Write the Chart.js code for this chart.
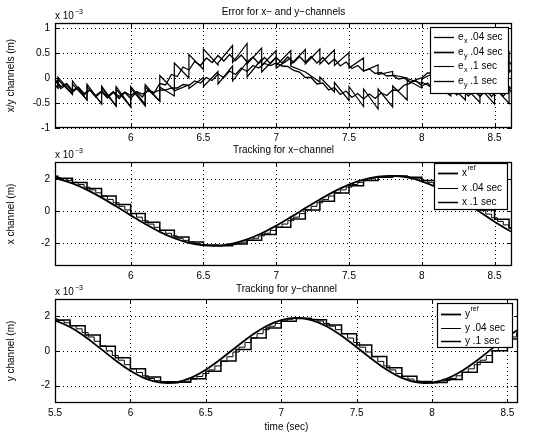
<!DOCTYPE html>
<html>
<head>
<meta charset="utf-8">
<script src="https://cdn.jsdelivr.net/npm/chart.js@4.4.0/dist/chart.umd.min.js"></script>
<style>
  body { margin: 0; background: #fff; }
  #wrap { position: relative; width: 543px; height: 435px; }
  canvas { position: absolute; left: 0; }
</style>
</head>
<body>
<div id="wrap">
  <canvas id="errChart" width="543" height="145" style="top:0px"></canvas>
  <canvas id="xChart" width="543" height="145" style="top:140px"></canvas>
  <canvas id="yChart" width="543" height="155" style="top:280px"></canvas>
</div>
<script>
const FONT = '"Liberation Sans", Arial, Helvetica, sans-serif';

// sample instants of the .1 sec controller (sec)
const t10 = [5.4, 5.5, 5.6, 5.7, 5.8, 5.9, 6.0, 6.1, 6.2, 6.3, 6.4, 6.5, 6.6, 6.7, 6.8, 6.9, 7.0,
  7.1, 7.2, 7.3, 7.4, 7.5, 7.6, 7.7, 7.8, 7.9, 8.0, 8.1, 8.2, 8.3, 8.4, 8.5, 8.6, 8.7];

// errors (x 10^-3 m), .1 sec: [start, end] of every sample interval
const ex10 = [0.10, -0.20, -0.03, -0.33, -0.12, -0.44, -0.17, -0.51, -0.20, -0.56, -0.22, -0.58,
  -0.20, -0.56, -0.13, -0.47, 0.05, -0.25, 0.30, 0.00, 0.47, 0.17, 0.58, 0.26, 0.30, 0.65,
  0.31, 0.69, 0.28, 0.60, 0.25, 0.55, 0.25, 0.55, 0.27, 0.57, 0.28, 0.58, 0.28, 0.56, 0.25, 0.51,
  0.20, 0.40, 0.14, 0.26, 0.07, 0.13, 0.06, 0.00, -0.01, -0.11, -0.08, -0.24, -0.14, -0.36,
  -0.16, -0.44, -0.19, -0.49, -0.20, -0.52, -0.19, -0.51, -0.17, -0.49];
const ey10 = [0.10, -0.20, 0.02, -0.32, -0.06, -0.44, -0.12, -0.52, -0.16, -0.56, -0.17, -0.57,
  -0.17, -0.53, -0.18, -0.46, -0.18, -0.36, -0.26, -0.14, -0.21, 0.01, -0.17, 0.13, -0.12, 0.24,
  -0.06, 0.32, 0.02, 0.38, 0.12, 0.42, 0.20, 0.40, 0.24, 0.12, 0.12, -0.08, 0.02, -0.28,
  -0.09, -0.45, -0.17, -0.57, -0.22, -0.62, -0.22, -0.58, -0.16, -0.44, -0.04, -0.20,
  -0.02, 0.12, 0.08, 0.32, 0.14, 0.46, 0.16, 0.54, 0.16, 0.56, 0.14, 0.52, 0.11, 0.45];

// errors (x 10^-3 m), .04 sec, one value every .04 sec from 5.48
const ex04 = [-0.04, -0.21, -0.13, -0.28, -0.19, -0.34, -0.24, -0.38, -0.27, -0.40,
  -0.29, -0.41, -0.29, -0.41, -0.28, -0.38, -0.23, -0.30, -0.11, -0.14,
  0.07, 0.03, 0.22, 0.16, 0.33, 0.25, 0.40, 0.31, 0.45, 0.34,
  0.47, 0.35, 0.46, 0.32, 0.42, 0.29, 0.41, 0.29, 0.41, 0.30,
  0.42, 0.31, 0.43, 0.31, 0.43, 0.30, 0.41, 0.28, 0.38, 0.24,
  0.32, 0.19, 0.25, 0.14, 0.18, 0.09, 0.11, 0.04, 0.05, -0.02,
  0.00, -0.09, -0.05, -0.16, -0.10, -0.23, -0.15, -0.30, -0.20, -0.34,
  -0.23, -0.36, -0.25, -0.37, -0.25, -0.37, -0.24, -0.36, -0.23, -0.34];
const ey04 = [-0.03, -0.17, -0.11, -0.25, -0.18, -0.31, -0.23, -0.35, -0.26, -0.37,
  -0.27, -0.37, -0.28, -0.35, -0.27, -0.32, -0.26, -0.29, -0.24, -0.24,
  -0.20, -0.20, -0.13, -0.15, -0.06, -0.10, 0.01, -0.05, 0.08, 0.01,
  0.14, 0.07, 0.20, 0.13, 0.25, 0.20, 0.29, 0.25, 0.30, 0.24,
  0.23, 0.15, 0.12, 0.01, 0.01, -0.12, -0.10, -0.24, -0.19, -0.33,
  -0.26, -0.39, -0.31, -0.42, -0.32, -0.41, -0.30, -0.35, -0.24, -0.25,
  -0.14, -0.11, -0.03, 0.00, 0.10, 0.10, 0.21, 0.18, 0.30, 0.24,
  0.35, 0.26, 0.37, 0.27, 0.37, 0.26, 0.35, 0.24, 0.32, 0.20];

// x channel (x 10^-3 m)
const xRef = [2.16, 2.01, 1.72, 1.32, 0.84, 0.30, -0.26, -0.80, -1.28, -1.68, -1.97, -2.12,
  -2.14, -2.01, -1.75, -1.37, -0.90, -0.37, 0.19, 0.73, 1.23, 1.65, 1.96, 2.14, 2.19, 2.09,
  1.85, 1.49, 1.05, 0.52, -0.05, -0.65, -1.20, -1.62];
const x10 = [2.16, 2.04, 1.78, 1.40, 0.94, 0.41, -0.15, -0.69, -1.18, -1.60, -1.91, -2.09,
  -2.14, -2.04, -1.80, -1.45, -0.99, -0.48, 0.08, 0.62, 1.13, 1.57, 1.90, 2.10, 2.18, 2.11,
  1.90, 1.56, 1.14, 0.63, 0.08, -0.50, -1.04, -1.50];
const x04 = [2.09, 2.01, 1.91, 1.79, 1.65, 1.49, 1.32, 1.14, 0.94, 0.73,
  0.52, 0.30, 0.08, -0.15, -0.37, -0.59, -0.80, -1.00, -1.19, -1.37,
  -1.53, -1.68, -1.81, -1.92, -2.01, -2.08, -2.12, -2.15, -2.15, -2.12,
  -2.08, -2.01, -1.92, -1.81, -1.68, -1.53, -1.37, -1.19, -1.00, -0.80,
  -0.59, -0.37, -0.15, 0.08, 0.30, 0.52, 0.73, 0.94, 1.14, 1.32,
  1.49, 1.65, 1.79, 1.91, 2.01, 2.09, 2.14, 2.18, 2.19, 2.18,
  2.14, 2.09, 2.01, 1.91, 1.79, 1.65, 1.49, 1.32, 1.14, 0.94,
  0.73, 0.52, 0.30, 0.06, -0.18, -0.41, -0.63, -0.85, -1.06, -1.25];

// y channel (x 10^-3 m)
const yRef = [1.91, 1.76, 1.38, 0.82, 0.15, -0.53, -1.14, -1.59, -1.82, -1.81, -1.55, -1.08,
  -0.46, 0.22, 0.88, 1.43, 1.78, 1.91, 1.78, 1.43, 0.88, 0.22, -0.46, -1.08, -1.55, -1.81,
  -1.82, -1.59, -1.14, -0.53, 0.15, 0.82, 1.38, 1.76];
const y10 = [1.92, 1.79, 1.46, 0.93, 0.28, -0.39, -1.02, -1.50, -1.77, -1.81, -1.60, -1.17,
  -0.58, 0.08, 0.75, 1.32, 1.71, 1.88, 1.81, 1.50, 0.99, 0.35, -0.32, -0.96, -1.46, -1.76,
  -1.82, -1.64, -1.23, -0.65, 0.01, 0.69, 1.27, 1.68];
const y04 = [1.85, 1.76, 1.63, 1.47, 1.28, 1.06, 0.81, 0.56, 0.29, 0.01,
  -0.26, -0.53, -0.79, -1.03, -1.24, -1.43, -1.59, -1.71, -1.80, -1.84,
  -1.85, -1.81, -1.74, -1.62, -1.47, -1.30, -1.09, -0.86, -0.60, -0.33,
  -0.06, 0.22, 0.49, 0.75, 1.00, 1.23, 1.43, 1.59, 1.73, 1.83,
  1.89, 1.91, 1.89, 1.83, 1.73, 1.59, 1.43, 1.23, 1.00, 0.75,
  0.49, 0.22, -0.06, -0.33, -0.60, -0.86, -1.09, -1.30, -1.47, -1.62,
  -1.74, -1.81, -1.85, -1.84, -1.80, -1.71, -1.59, -1.43, -1.24, -1.03,
  -0.79, -0.53, -0.26, 0.01, 0.29, 0.56, 0.81, 1.06, 1.28, 1.47];

// sample instants of the .04 sec controller
const t04 = x04.map((v, i) => +(5.48 + 0.04 * i).toFixed(2));

const xTicksTop = [6, 6.5, 7, 7.5, 8, 8.5];
const xTicksBottom = [5.5, 6, 6.5, 7, 7.5, 8, 8.5];
const errTicks = [-1, -0.5, 0, 0.5, 1];
const posTicks = [-2, 0, 2];

function pts(ts, vs) {
  return vs.map((v, i) => ({ x: ts[i], y: v }));
}

function sawPts(ts, pairs) {
  const out = [];
  for (let k = 0; 2 * k + 1 < pairs.length; k++) {
    out.push({ x: ts[k], y: pairs[2 * k] });
    out.push({ x: +(ts[k] + 0.1).toFixed(2), y: pairs[2 * k + 1] });
  }
  return out;
}

function line(data, width, stepped) {
  return { data: data, borderColor: '#000', borderWidth: width, pointRadius: 0,
    fill: false, tension: 0, stepped: stepped || false };
}

// matlab style frame: dotted grid, box, inner ticks, title, exponent, legend
const framePlugin = {
  id: 'frame',
  beforeDatasetsDraw(chart, args, opts) {
    const { ctx, chartArea: a, scales: { x, y } } = chart;
    ctx.save();
    ctx.strokeStyle = '#000';
    ctx.lineWidth = 1;
    ctx.setLineDash([1, 3]);
    ctx.beginPath();
    x.ticks.forEach(t => {
      const px = Math.round(x.getPixelForValue(t.value)) + 0.5;
      ctx.moveTo(px, a.top); ctx.lineTo(px, a.bottom);
    });
    y.ticks.forEach(t => {
      const py = Math.round(y.getPixelForValue(t.value)) + 0.5;
      ctx.moveTo(a.left, py); ctx.lineTo(a.right, py);
    });
    ctx.stroke();
    ctx.restore();
  },
  afterDatasetsDraw(chart, args, opts) {
    const { ctx, chartArea: a, scales: { x, y } } = chart;
    ctx.save();
    ctx.strokeStyle = '#000';
    ctx.lineWidth = 1.3;
    ctx.strokeRect(a.left + 0.5, a.top + 0.5, a.right - a.left - 1, a.bottom - a.top - 1);
    ctx.lineWidth = 1;
    ctx.beginPath();
    x.ticks.forEach(t => {
      const px = Math.round(x.getPixelForValue(t.value)) + 0.5;
      ctx.moveTo(px, a.bottom); ctx.lineTo(px, a.bottom - 4);
      ctx.moveTo(px, a.top); ctx.lineTo(px, a.top + 4);
    });
    y.ticks.forEach(t => {
      const py = Math.round(y.getPixelForValue(t.value)) + 0.5;
      ctx.moveTo(a.left, py); ctx.lineTo(a.left + 4, py);
      ctx.moveTo(a.right, py); ctx.lineTo(a.right - 4, py);
    });
    ctx.stroke();

    // title and exponent
    ctx.fillStyle = '#000';
    ctx.textAlign = 'center';
    ctx.textBaseline = 'middle';
    ctx.font = '10px ' + FONT;
    ctx.fillText(opts.title, (a.left + a.right) / 2, opts.titleY);
    ctx.textAlign = 'left';
    ctx.textBaseline = 'alphabetic';
    ctx.fillText('x 10', a.left, a.top - 4);
    const w = ctx.measureText('x 10').width;
    ctx.font = '7px ' + FONT;
    ctx.fillText('\u22123', a.left + w + 1, a.top - 9);

    // legend
    const lg = opts.legend;
    ctx.fillStyle = '#fff';
    ctx.fillRect(lg.x, lg.y, lg.w, lg.h);
    ctx.lineWidth = 1.2;
    ctx.strokeRect(lg.x + 0.5, lg.y + 0.5, lg.w, lg.h);
    lg.items.forEach((it, i) => {
      const yy = lg.rows[i];
      ctx.lineWidth = it.lw;
      ctx.beginPath();
      ctx.moveTo(lg.x + 4, yy + 0.5); ctx.lineTo(lg.x + 24, yy + 0.5);
      ctx.stroke();
      let tx = lg.x + lg.textOff;
      ctx.fillStyle = '#000';
      ctx.textBaseline = 'middle';
      ctx.font = '10px ' + FONT;
      ctx.fillText(it.base, tx, yy);
      tx += ctx.measureText(it.base).width;
      if (it.sub) {
        ctx.font = '7px ' + FONT;
        ctx.fillText(it.sub, tx + 0.5, yy + 4);
        tx += ctx.measureText(it.sub).width + 0.5;
      }
      if (it.sup) {
        ctx.font = '7px ' + FONT;
        ctx.fillText(it.sup, tx + 0.5, yy - 5);
        tx += ctx.measureText(it.sup).width + 0.5;
      }
      if (it.rest) {
        ctx.font = '10px ' + FONT;
        ctx.fillText(it.rest, tx, yy);
      }
    });
    ctx.restore();
  }
};

function makeOptions(c) {
  const tickFont = { family: FONT, size: 10 };
  return {
    responsive: false,
    animation: false,
    events: [],
    layout: { padding: { top: c.padTop, right: c.padRight, left: 0, bottom: 0 } },
    plugins: { legend: { display: false }, tooltip: { enabled: false }, frame: c.frame },
    scales: {
      x: {
        type: 'linear', min: c.xMin, max: c.xMax,
        afterBuildTicks: s => { s.ticks = c.xTicks.map(v => ({ value: v })); },
        afterFit: s => { s.height = c.xHeight; },
        grid: { display: false, drawTicks: false },
        border: { display: false },
        ticks: { color: '#000', font: tickFont, padding: 4, maxRotation: 0, callback: v => String(v) },
        title: c.xTitle
          ? { display: true, text: c.xTitle, color: '#000', font: tickFont, padding: { top: 0, bottom: 2 } }
          : { display: false }
      },
      y: {
        min: c.yMin, max: c.yMax,
        afterBuildTicks: s => { s.ticks = c.yTicks.map(v => ({ value: v })); },
        afterFit: s => { s.width = 55; },
        grid: { display: false, drawTicks: false },
        border: { display: false },
        ticks: { color: '#000', font: tickFont, padding: 5, callback: v => String(v) },
        title: { display: true, text: c.yTitle, color: '#000', font: tickFont, padding: { top: 5, bottom: 0 } }
      }
    }
  };
}

new Chart('errChart', {
  type: 'line',
  data: {
    datasets: [
      line(pts(t04, ex04), 1.3),
      line(pts(t04, ey04), 1.3),
      line(sawPts(t10, ex10), 1.2),
      line(sawPts(t10, ey10), 1.2)
    ]
  },
  options: makeOptions({
    padTop: 23, padRight: 31, xHeight: 17,
    xMin: 5.48, xMax: 8.62, xTicks: xTicksTop,
    yMin: -1, yMax: 1.1, yTicks: errTicks, yTitle: 'x/y channels (m)',
    frame: {
      title: 'Error for x\u2212 and y\u2212channels', titleY: 12,
      legend: {
        x: 430, y: 27, w: 78, h: 66, textOff: 28, rows: [37, 52, 66, 81],
        items: [
          { base: 'e', sub: 'x', rest: ' .04 sec', lw: 1.3 },
          { base: 'e', sub: 'y', rest: ' .04 sec', lw: 1.6 },
          { base: 'e', sub: 'x', rest: ' .1 sec', lw: 1.1 },
          { base: 'e', sub: 'y', rest: ' .1 sec', lw: 1.3 }
        ]
      }
    }
  }),
  plugins: [framePlugin]
});

new Chart('xChart', {
  type: 'line',
  data: {
    datasets: [
      Object.assign(line(pts(t10, xRef), 1.8), { tension: 0.4 }),
      line(pts(t04, x04), 1.0, true),
      line(pts(t10, x10), 1.5, true)
    ]
  },
  options: makeOptions({
    padTop: 22, padRight: 31, xHeight: 19,
    xMin: 5.48, xMax: 8.62, xTicks: xTicksTop,
    yMin: -3.4, yMax: 3.05, yTicks: posTicks, yTitle: 'x channel (m)',
    frame: {
      title: 'Tracking for x\u2212channel', titleY: 10,
      legend: {
        x: 434, y: 23, w: 73, h: 46, textOff: 28, rows: [33, 48, 62],
        items: [
          { base: 'x', sup: 'ref', lw: 1.8 },
          { base: 'x .04 sec', lw: 1.0 },
          { base: 'x .1 sec', lw: 1.5 }
        ]
      }
    }
  }),
  plugins: [framePlugin]
});

new Chart('yChart', {
  type: 'line',
  data: {
    datasets: [
      Object.assign(line(pts(t10, yRef), 1.8), { tension: 0.4 }),
      line(pts(t04, y04), 1.0, true),
      line(pts(t10, y10), 1.5, true)
    ]
  },
  options: makeOptions({
    padTop: 19, padRight: 25, xHeight: 32, xTitle: 'time (sec)',
    xMin: 5.5, xMax: 8.57, xTicks: xTicksBottom,
    yMin: -3, yMax: 3, yTicks: posTicks, yTitle: 'y channel (m)',
    frame: {
      title: 'Tracking for y\u2212channel', titleY: 9,
      legend: {
        x: 437, y: 23, w: 75, h: 44, textOff: 28, rows: [34, 48, 61],
        items: [
          { base: 'y', sup: 'ref', lw: 1.8 },
          { base: 'y .04 sec', lw: 1.0 },
          { base: 'y .1 sec', lw: 1.5 }
        ]
      }
    }
  }),
  plugins: [framePlugin]
});
</script>
</body>
</html>
